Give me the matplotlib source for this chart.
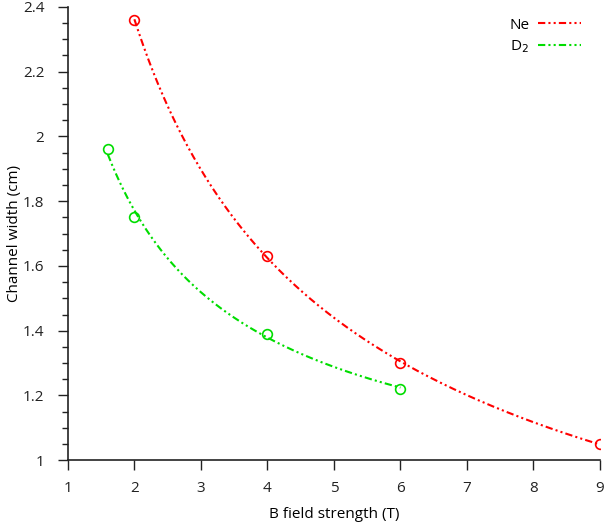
import numpy as np
import matplotlib
matplotlib.use("Agg")
import matplotlib.pyplot as plt
from matplotlib.ticker import MultipleLocator, FuncFormatter

ne_B = [2, 4, 6, 9]
ne_w = [2.36, 1.63, 1.30, 1.05]
d2_B = [1.6, 2, 4, 6]
d2_w = [1.96, 1.75, 1.39, 1.22]

plt.rcParams['font.family'] = ['Open Sans', 'DejaVu Sans']

fig = plt.figure(figsize=(6.06, 5.29), dpi=100)
ax = fig.add_axes([0.112, 0.130, 0.878, 0.857])

def smooth(xs, ys, deg):
    lx, ly = np.log(xs), np.log(ys)
    p = np.polyfit(lx, ly, deg)
    xx = np.linspace(min(xs), max(xs), 300)
    return xx, np.exp(np.polyval(p, np.log(xx)))

dash = (3.5, 1.5, 1, 1.5, 1, 1.5)
for xs, ys, c, lab, deg in [(ne_B, ne_w, '#ff0000', 'Ne', 1),
                            (d2_B, d2_w, '#00dd00', 'D$_2$', 2)]:
    xx, yy = smooth(xs, ys, deg)
    ax.plot(xx, yy, color=c, lw=1.5, dashes=dash, label=lab)
    ax.plot(xs, ys, 'o', mfc='none', mec=c, ms=7, mew=1.2, linestyle='none')

ax.set_xlim(1, 9)
ax.set_ylim(1, 2.4)
ax.xaxis.set_major_locator(MultipleLocator(1))
ax.yaxis.set_major_locator(MultipleLocator(0.2))
ax.yaxis.set_minor_locator(MultipleLocator(0.05))
ax.yaxis.set_major_formatter(FuncFormatter(lambda v, p: f"{v:g}"))
for s in ['top', 'right']:
    ax.spines[s].set_visible(False)
for s in ['left', 'bottom']:
    ax.spines[s].set_color('#222222')
    ax.spines[s].set_linewidth(1.2)
ax.tick_params(axis='x', which='major', direction='out', length=7, width=1, labelsize=11, colors='#222222', pad=8)
ax.tick_params(axis='y', which='major', direction='out', length=7, width=1, labelsize=11, colors='#222222', pad=10)
ax.tick_params(axis='y', which='minor', direction='out', length=4, width=1, colors='#222222')
ax.set_xlabel('B field strength (T)', fontsize=11)
ax.set_ylabel('Channel width (cm)', fontsize=11)
ax.xaxis.set_label_coords(0.5, -0.103)
ax.yaxis.set_label_coords(-0.087, 0.5)

leg = ax.legend(loc='upper right', frameon=False, markerfirst=False, fontsize=11,
                handlelength=2.8, handletextpad=0.6, bbox_to_anchor=(0.985, 1.0),
                borderaxespad=0.3, labelspacing=0.35)

fig.savefig('out.png', dpi=100)
